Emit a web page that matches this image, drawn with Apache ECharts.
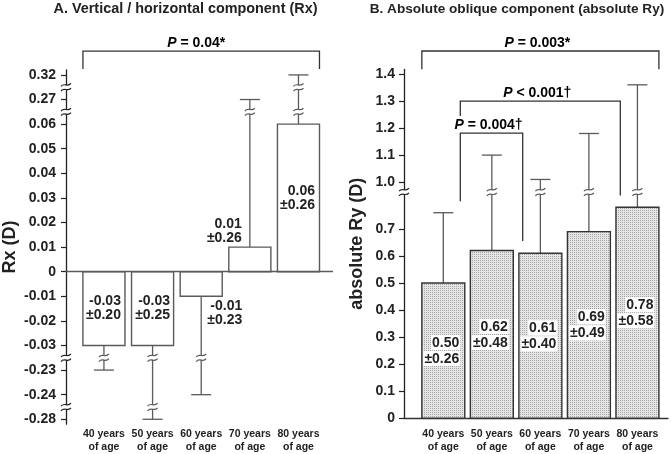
<!DOCTYPE html>
<html>
<head>
<meta charset="utf-8">
<script src="https://cdn.jsdelivr.net/npm/echarts@6/dist/echarts.min.js"></script>
<style>
  html, body { margin: 0; background: #fff; }
  #chart { width: 672px; height: 454px; }
</style>
</head>
<body>
<div id="chart"></div>
<script>
const ageGroups = ['40 years\nof age', '50 years\nof age', '60 years\nof age', '70 years\nof age', '80 years\nof age'];
const rxMean = [-0.03, -0.03, -0.01, 0.01, 0.06];
const rxSd = [0.20, 0.25, 0.23, 0.26, 0.26];
const ryMean = [0.50, 0.62, 0.61, 0.69, 0.78];
const rySd = [0.26, 0.48, 0.40, 0.49, 0.58];
const rxTicks = [-0.28, -0.24, -0.23, -0.03, -0.02, -0.01, 0, 0.01, 0.02, 0.03, 0.04, 0.05, 0.06, 0.27, 0.32];
const ryTicks = [0, 0.1, 0.2, 0.3, 0.4, 0.5, 0.6, 0.7, 1.0, 1.1, 1.2, 1.3, 1.4];
const rxBreaks = [[-0.28, -0.24], [-0.23, -0.03], [0.06, 0.27], [0.27, 0.32]];
const ryBreaks = [[0.8, 1.0]];
const rxPText = ['= 0.04*'];
const ryPText = ['= 0.003*', '= 0.004\u2020', '< 0.001\u2020'];

const FONT = '"Liberation Sans", Arial, Helvetica, sans-serif';
const INK = '#222';
const GREY = '#5a5a5a';

// broken axes: every knot pins a value to a spot on a plain value axis
const rxKnots = rxTicks.map((v, i) => [v, i]);
const ryKnots = [[0, 0], [0.8, 8], [1.0, 8.73], [1.4, 12.73]];
function scaleOf(knots) {
  return function (v) {
    for (let k = 1; k < knots.length; k++) {
      const a = knots[k - 1], b = knots[k];
      if (v <= b[0] || k === knots.length - 1) {
        return a[1] + (v - a[0]) / (b[0] - a[0]) * (b[1] - a[1]);
      }
    }
  };
}
const rxPos = scaleOf(rxKnots);
const ryPos = scaleOf(ryKnots);
const rxTickPos = rxTicks.map(rxPos);
const ryTickPos = ryTicks.map(ryPos);

// dotted fill of the right panel bars
const dots = document.createElement('canvas');
dots.width = dots.height = 2;
const dctx = dots.getContext('2d');
dctx.fillStyle = '#e6e6e6';
dctx.fillRect(0, 0, 2, 2);
dctx.fillStyle = '#a4a4a4';
dctx.fillRect(0, 0, 1, 1);

function breakMark(cx, cy, color) {
  const wave = dy => ({
    type: 'bezierCurve',
    shape: { x1: cx - 5, y1: cy + dy + 1.5, cpx1: cx - 1.5, cpy1: cy + dy - 3, cpx2: cx + 1.5, cpy2: cy + dy + 3, x2: cx + 5, y2: cy + dy - 1.5 },
    style: { stroke: color, lineWidth: 1.2, fill: 'none' }
  });
  return {
    type: 'group',
    children: [
      { type: 'rect', shape: { x: cx - 3, y: cy - 2, width: 6, height: 4 }, style: { fill: '#fff' } },
      wave(-2.3), wave(2.3)
    ]
  };
}

function barRenderer(cfg) {
  return function (params, api) {
    const i = params.dataIndex;
    const x = api.value(0), m = api.value(1), s = api.value(2);
    const end = m >= 0 ? m + s : m - s;
    const half = cfg.barWidth / 2;
    const base = api.coord([x, cfg.pos(0)]);
    const top = api.coord([x, cfg.pos(m)]);
    const tip = api.coord([x, cfg.pos(end)]);
    const left = api.coord([x - half, 0])[0];
    const right = api.coord([x + half, 0])[0];
    const cx = base[0];
    const line = { stroke: GREY, lineWidth: 1.3 };
    const children = [
      { type: 'line', shape: { x1: cx, y1: top[1], x2: cx, y2: tip[1] }, style: line },
      { type: 'line', shape: { x1: cx - 10, y1: tip[1], x2: cx + 10, y2: tip[1] }, style: line }
    ];
    cfg.breaks.forEach(b => {
      if (Math.min(m, end) <= b[0] && Math.max(m, end) >= b[1]) {
        const y = api.coord([x, (cfg.pos(b[0]) + cfg.pos(b[1])) / 2])[1];
        children.push(breakMark(cx, y, GREY));
      }
    });
    children.push({
      type: 'rect',
      shape: { x: left, y: Math.min(base[1], top[1]), width: right - left, height: Math.abs(top[1] - base[1]) },
      style: { fill: cfg.fill, stroke: cfg.stroke, lineWidth: 1.4 }
    });
    const sh = cfg.labelShift[i];
    const a = m.toFixed(2), b = '\u00b1' + s.toFixed(2);
    const textStyle = cfg.boxed
      ? { text: '{w|' + a + '}\n{w|' + b + '}', rich: { w: { fontSize: 14, fontWeight: 'bold', fontFamily: FONT, color: INK, backgroundColor: '#fff', padding: [1, 1, 0, 1], lineHeight: 16 } } }
      : { text: a + '\n' + b, fontSize: 14, fontWeight: 'bold', fontFamily: FONT, lineHeight: 14 };
    children.push({
      type: 'text',
      x: cx + sh[0],
      y: (base[1] + top[1]) / 2 + sh[1],
      style: Object.assign({ fill: INK, align: 'right', verticalAlign: 'middle' }, textStyle)
    });
    return { type: 'group', children };
  };
}

function axisBreakRenderer(pos) {
  return function (params, api) {
    const b = [api.value(0), api.value(1)];
    const y = api.coord([0, (pos(b[0]) + pos(b[1])) / 2])[1];
    return breakMark(params.coordSys.x, y, INK);
  };
}

function bracketRenderer(layout, texts) {
  return function (params, api) {
    const k = params.dataIndex;
    const L = layout[k];
    const p1 = api.coord([L.x1, L.y]);
    const p2 = api.coord([L.x2, L.y]);
    const y1 = api.coord([L.x1, L.leg1])[1];
    const y2 = api.coord([L.x2, L.leg2])[1];
    const rich = {
      i: { fontStyle: 'italic', fontWeight: 'bold', fontSize: 14, fontFamily: FONT, color: INK },
      n: { fontWeight: 'bold', fontSize: 14, fontFamily: FONT, color: INK }
    };
    return {
      type: 'group',
      children: [
        { type: 'polyline', shape: { points: [[p1[0], y1], [p1[0], p1[1]], [p2[0], p2[1]], [p2[0], y2]] }, style: { stroke: '#333', lineWidth: 1.3, fill: 'none' } },
        { type: 'text', x: (p1[0] + p2[0]) / 2 + L.dx, y: p1[1] - 8, style: { text: '{i|P}{n| ' + texts[k] + '}', rich, align: 'center', verticalAlign: 'middle' } }
      ]
    };
  };
}

const rxBrackets = [{ x1: -0.432, x2: 4.432, y: 14.97, leg1: 14.24, leg2: 14.24, dx: -5 }];
const ryBrackets = [
  { x1: -0.4425, x2: 4.4425, y: 13.58, leg1: 12.91, leg2: 12.91, dx: -3 },
  { x1: 0.35, x2: 1.636, y: 10.54, leg1: 8.02, leg2: 6.55, dx: -3 },
  { x1: 0.35, x2: 3.647, y: 11.73, leg1: 11.18, leg2: 8.24, dx: -3 }
];

function tickLabel(ticks, tickPos, digits) {
  return function (v) {
    const i = tickPos.findIndex(p => Math.abs(p - v) < 1e-6);
    if (i < 0) return '';
    return ticks[i] === 0 ? '0' : ticks[i].toFixed(digits);
  };
}

const valueAxisBase = {
  type: 'value',
  nameLocation: 'middle',
  nameTextStyle: { fontSize: 18, fontWeight: 'bold', color: INK, fontFamily: FONT },
  axisLine: { show: true, onZero: false, lineStyle: { color: INK, width: 1.3 } },
  splitLine: { show: false }
};
const catAxisBase = {
  type: 'value',
  axisTick: { show: false },
  splitLine: { show: false },
  axisLabel: {
    customValues: [0, 1, 2, 3, 4],
    showMinLabel: true, showMaxLabel: true, hideOverlap: false,
    formatter: v => ageGroups[Math.round(v)],
    fontSize: 10.5, fontWeight: 'bold', color: INK, fontFamily: FONT,
    lineHeight: 13.4
  }
};

const chartsRef = document.getElementById('chart');
const options = {
  animation: false,
  backgroundColor: '#fff',
  textStyle: { fontFamily: FONT },
  title: [
    { text: 'A. Vertical / horizontal component (Rx)', left: 180.5, top: -3, textAlign: 'center', textStyle: { fontSize: 14.4, fontWeight: 'bold', color: INK, fontFamily: FONT } },
    { text: 'B. Absolute oblique component (absolute Ry)', left: 512, top: -3, textAlign: 'center', textStyle: { fontSize: 13.6, fontWeight: 'bold', color: INK, fontFamily: FONT } }
  ],
  grid: [
    { left: 66, right: 339, top: 70, bottom: 29.6 },
    { left: 404, right: 4, top: 69.4, bottom: 34.7 }
  ],
  xAxis: [
    Object.assign({}, catAxisBase, { gridIndex: 0, min: -0.78, max: 4.71, axisLine: { show: false }, axisLabel: Object.assign({}, catAxisBase.axisLabel, { margin: 3 }) }),
    Object.assign({}, catAxisBase, { gridIndex: 1, min: -0.81, max: 4.63, axisLine: { show: true, onZero: false, lineStyle: { color: '#333', width: 1.3 } }, axisLabel: Object.assign({}, catAxisBase.axisLabel, { margin: 9 }) })
  ],
  yAxis: [
    Object.assign({}, valueAxisBase, {
      gridIndex: 0, min: -0.2, max: 14.2, name: 'Rx (D)', nameGap: 47,
      axisTick: { show: true, length: 5, customValues: rxTickPos, lineStyle: { color: INK, width: 1.2 } },
      axisLabel: { customValues: rxTickPos, formatter: tickLabel(rxTicks, rxTickPos, 2), margin: 10, fontSize: 14, fontWeight: 'bold', color: INK, fontFamily: FONT }
    }),
    Object.assign({}, valueAxisBase, {
      gridIndex: 1, min: 0, max: 12.9, name: 'absolute Ry (D)', nameGap: 38,
      axisTick: { show: true, length: 5, customValues: ryTickPos, lineStyle: { color: INK, width: 1.2 } },
      axisLabel: { customValues: ryTickPos, formatter: tickLabel(ryTicks, ryTickPos, 1), margin: 9, fontSize: 14, fontWeight: 'bold', color: INK, fontFamily: FONT }
    })
  ],
  series: [
    {
      type: 'custom',
      xAxisIndex: 0, yAxisIndex: 0,
      data: rxMean.map((m, i) => [i, m, rxSd[i]]),
      renderItem: barRenderer({
        pos: rxPos, breaks: rxBreaks, barWidth: 0.865, fill: '#fff', stroke: GREY, boxed: false,
        labelShift: [[17, 0], [17.5, 0], [41, 29], [-8, -28.5], [16.5, 0]]
      }),
      markLine: {
        silent: true, symbol: 'none', label: { show: false },
        lineStyle: { color: GREY, width: 1.3, type: 'solid' },
        data: [{ yAxis: rxPos(0) }]
      }
    },
    {
      type: 'custom',
      xAxisIndex: 1, yAxisIndex: 1,
      data: ryMean.map((m, i) => [i, m, rySd[i]]),
      renderItem: barRenderer({
        pos: ryPos, breaks: ryBreaks, barWidth: 0.885, fill: { image: dots, repeat: 'repeat' }, stroke: '#333', boxed: true,
        labelShift: [[17, 0], [17, 0], [17, 0], [17, 0], [17, 0]]
      })
    },
    { type: 'custom', xAxisIndex: 0, yAxisIndex: 0, data: rxBreaks, renderItem: axisBreakRenderer(rxPos), z: 5 },
    { type: 'custom', xAxisIndex: 1, yAxisIndex: 1, data: ryBreaks, renderItem: axisBreakRenderer(ryPos), z: 5 },
    { type: 'custom', xAxisIndex: 0, yAxisIndex: 0, data: rxPText.map((t, i) => [i]), renderItem: bracketRenderer(rxBrackets, rxPText) },
    { type: 'custom', xAxisIndex: 1, yAxisIndex: 1, data: ryPText.map((t, i) => [i]), renderItem: bracketRenderer(ryBrackets, ryPText) }
  ]
};

let chart = null;
const initChart = () => {
  const chart = echarts.init(chartsRef);
  chart.setOption(options);
  return chart;
};
chart = initChart();
window.addEventListener('resize', function () {
  chart && chart.resize();
});
</script>
</body>
</html>
